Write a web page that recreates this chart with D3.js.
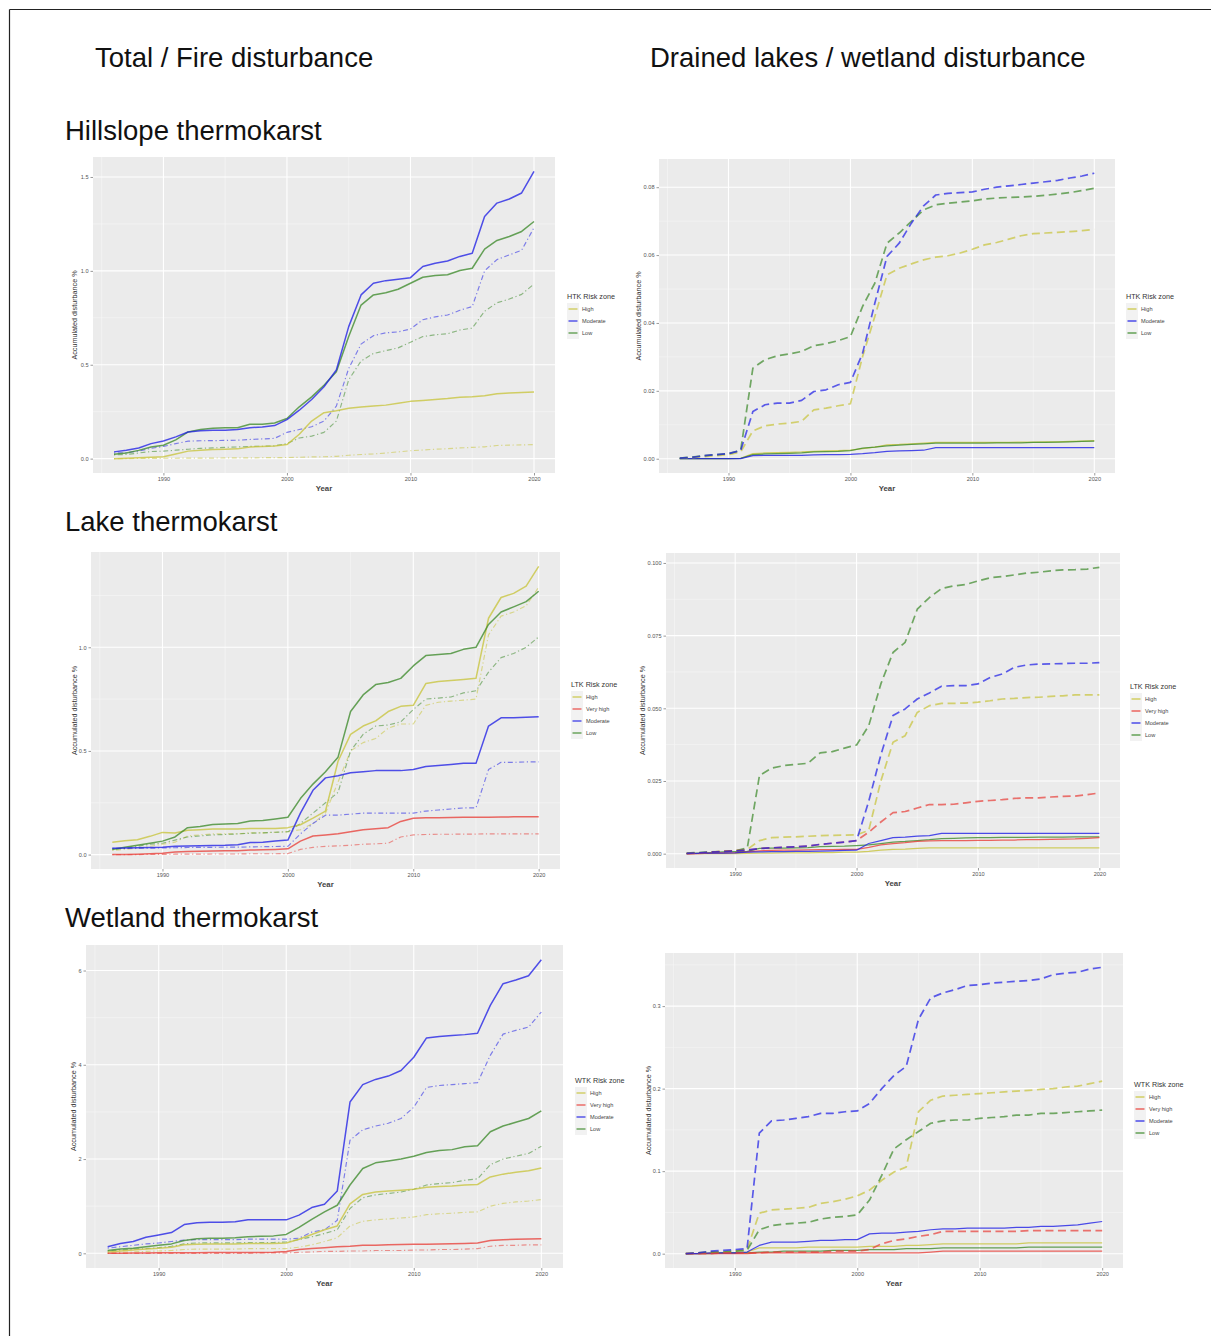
<!DOCTYPE html>
<html>
<head>
<meta charset="utf-8">
<script src="https://cdn.jsdelivr.net/npm/d3@7"></script>
<style>
  html, body { margin: 0; padding: 0; background: #ffffff; }
  svg { display: block; font-family: "Liberation Sans", Arial, Helvetica, sans-serif; }
</style>
</head>
<body>
<svg id="fig" width="1211" height="1336"></svg>
<script>
// ---------- categories ----------
const years = [1986,1987,1988,1989,1990,1991,1992,1993,1994,1995,1996,1997,1998,1999,2000,
               2001,2002,2003,2004,2005,2006,2007,2008,2009,2010,2011,2012,2013,2014,2015,
               2016,2017,2018,2019,2020];
const xTicks = [1990, 2000, 2010, 2020];
const zones3 = ["High", "Moderate", "Low"];
const zones4 = ["High", "Very high", "Moderate", "Low"];

// ---------- Hillslope thermokarst: total (solid) and fire (dot-dash), % ----------
const htkTotalHigh     = [0.000,0.002,0.005,0.008,0.010,0.025,0.040,0.045,0.048,0.050,0.052,0.062,0.065,0.067,0.075,0.130,0.200,0.245,0.255,0.268,0.275,0.280,0.285,0.295,0.305,0.310,0.315,0.320,0.327,0.330,0.335,0.345,0.350,0.352,0.355];
const htkTotalModerate = [0.036,0.045,0.057,0.080,0.094,0.116,0.142,0.148,0.151,0.151,0.155,0.165,0.169,0.176,0.208,0.258,0.315,0.383,0.472,0.703,0.872,0.934,0.948,0.956,0.964,1.023,1.041,1.053,1.077,1.094,1.290,1.361,1.383,1.415,1.530];
const htkTotalLow      = [0.023,0.030,0.044,0.062,0.071,0.100,0.142,0.155,0.162,0.165,0.165,0.183,0.183,0.190,0.214,0.276,0.329,0.391,0.463,0.650,0.818,0.872,0.884,0.902,0.934,0.966,0.975,0.979,1.002,1.014,1.116,1.162,1.183,1.210,1.263];
const htkFireHigh      = [0.000,0.000,0.001,0.001,0.002,0.002,0.003,0.003,0.003,0.004,0.004,0.004,0.005,0.005,0.006,0.007,0.009,0.010,0.012,0.018,0.022,0.025,0.030,0.036,0.042,0.046,0.050,0.053,0.057,0.060,0.063,0.070,0.072,0.073,0.075];
const htkFireModerate  = [0.030,0.032,0.040,0.055,0.065,0.080,0.093,0.095,0.096,0.097,0.098,0.102,0.105,0.108,0.140,0.155,0.170,0.200,0.280,0.480,0.610,0.655,0.670,0.675,0.690,0.740,0.755,0.765,0.790,0.810,1.000,1.060,1.085,1.110,1.230];
const htkFireLow       = [0.020,0.022,0.030,0.038,0.040,0.045,0.050,0.055,0.057,0.060,0.062,0.065,0.066,0.068,0.080,0.110,0.120,0.140,0.200,0.420,0.520,0.560,0.575,0.590,0.620,0.650,0.660,0.665,0.685,0.695,0.785,0.830,0.850,0.875,0.930];

// ---------- Hillslope thermokarst: drained lakes (dashed) and wetland (solid), % ----------
const htkDrainedHigh     = [0.0001,0.0003,0.0006,0.0009,0.0012,0.0020,0.0082,0.0097,0.0102,0.0105,0.0110,0.0144,0.0149,0.0156,0.0162,0.0301,0.0419,0.0542,0.0561,0.0574,0.0586,0.0594,0.0598,0.0606,0.0617,0.0630,0.0637,0.0647,0.0657,0.0663,0.0665,0.0667,0.0669,0.0672,0.0676];
const htkDrainedModerate = [0.0002,0.0004,0.0009,0.0012,0.0015,0.0024,0.0139,0.0159,0.0164,0.0164,0.0172,0.0198,0.0203,0.0218,0.0225,0.0311,0.0458,0.0596,0.0635,0.0694,0.0745,0.0777,0.0782,0.0784,0.0786,0.0794,0.0800,0.0804,0.0808,0.0812,0.0816,0.0820,0.0827,0.0833,0.0841];
const htkDrainedLow      = [0.0002,0.0005,0.0009,0.0012,0.0015,0.0025,0.0267,0.0292,0.0303,0.0309,0.0316,0.0333,0.0339,0.0348,0.0360,0.0449,0.0517,0.0635,0.0665,0.0699,0.0733,0.0748,0.0753,0.0756,0.0760,0.0765,0.0768,0.0770,0.0771,0.0773,0.0776,0.0780,0.0784,0.0790,0.0797];
const htkWetHigh         = [0.0000,0.0000,0.0000,0.0000,0.0000,0.0001,0.0015,0.0017,0.0018,0.0019,0.0020,0.0022,0.0023,0.0024,0.0025,0.0030,0.0034,0.0041,0.0042,0.0044,0.0046,0.0048,0.0048,0.0048,0.0048,0.0048,0.0048,0.0048,0.0049,0.0049,0.0050,0.0050,0.0051,0.0052,0.0053];
const htkWetModerate     = [0.0000,0.0000,0.0000,0.0000,0.0000,0.0000,0.0009,0.0010,0.0010,0.0010,0.0010,0.0011,0.0012,0.0012,0.0013,0.0015,0.0018,0.0022,0.0023,0.0024,0.0025,0.0033,0.0033,0.0033,0.0033,0.0033,0.0033,0.0033,0.0033,0.0033,0.0033,0.0033,0.0033,0.0033,0.0033];
const htkWetLow          = [0.0000,0.0000,0.0000,0.0000,0.0000,0.0001,0.0012,0.0014,0.0015,0.0016,0.0017,0.0020,0.0021,0.0022,0.0024,0.0031,0.0034,0.0038,0.0040,0.0042,0.0044,0.0046,0.0046,0.0046,0.0046,0.0046,0.0047,0.0047,0.0047,0.0048,0.0048,0.0049,0.0050,0.0051,0.0052];

// ---------- Lake thermokarst: total (solid) and fire (dot-dash), % ----------
const ltkTotalHigh      = [0.059,0.067,0.072,0.088,0.107,0.104,0.117,0.120,0.123,0.123,0.123,0.126,0.126,0.126,0.130,0.144,0.176,0.210,0.450,0.580,0.620,0.645,0.690,0.715,0.720,0.825,0.835,0.840,0.845,0.850,1.140,1.240,1.260,1.295,1.390];
const ltkTotalVeryHigh  = [0.000,0.000,0.002,0.004,0.006,0.012,0.015,0.016,0.017,0.018,0.019,0.022,0.023,0.025,0.028,0.065,0.090,0.095,0.100,0.110,0.120,0.125,0.130,0.160,0.175,0.178,0.178,0.179,0.180,0.180,0.180,0.181,0.182,0.182,0.183];
const ltkTotalModerate  = [0.030,0.032,0.033,0.034,0.035,0.040,0.042,0.043,0.044,0.045,0.048,0.058,0.060,0.065,0.070,0.200,0.310,0.370,0.380,0.395,0.400,0.405,0.405,0.405,0.410,0.425,0.430,0.435,0.440,0.440,0.620,0.660,0.660,0.662,0.665];
const ltkTotalLow       = [0.025,0.035,0.045,0.055,0.065,0.085,0.130,0.135,0.145,0.148,0.150,0.162,0.165,0.172,0.180,0.270,0.340,0.400,0.470,0.690,0.770,0.820,0.830,0.850,0.910,0.960,0.965,0.970,0.990,1.000,1.110,1.170,1.195,1.220,1.270];
const ltkFireHigh       = [0.020,0.025,0.030,0.040,0.050,0.060,0.090,0.095,0.100,0.100,0.100,0.105,0.105,0.108,0.110,0.120,0.150,0.200,0.350,0.500,0.540,0.560,0.610,0.630,0.630,0.720,0.735,0.740,0.745,0.750,1.060,1.150,1.170,1.200,1.290];
const ltkFireVeryHigh   = [0.000,0.000,0.000,0.001,0.001,0.002,0.002,0.002,0.003,0.003,0.003,0.004,0.004,0.004,0.005,0.025,0.035,0.040,0.042,0.045,0.050,0.052,0.055,0.085,0.095,0.097,0.098,0.098,0.099,0.099,0.100,0.100,0.100,0.100,0.100];
const ltkFireModerate   = [0.030,0.030,0.031,0.031,0.032,0.033,0.034,0.035,0.035,0.036,0.036,0.037,0.038,0.039,0.040,0.100,0.150,0.190,0.190,0.195,0.200,0.200,0.200,0.200,0.200,0.210,0.215,0.220,0.225,0.225,0.410,0.445,0.445,0.447,0.447];
const ltkFireLow        = [0.025,0.030,0.040,0.050,0.055,0.070,0.085,0.090,0.095,0.097,0.100,0.103,0.105,0.108,0.110,0.150,0.200,0.250,0.300,0.500,0.580,0.620,0.625,0.640,0.700,0.750,0.755,0.760,0.780,0.790,0.880,0.950,0.970,1.000,1.050];

// ---------- Lake thermokarst: drained lakes (dashed) and wetland (solid), % ----------
const ltkDrainedHigh     = [0.0001,0.0003,0.0005,0.0008,0.0010,0.0015,0.0045,0.0055,0.0057,0.0058,0.0060,0.0062,0.0063,0.0064,0.0065,0.0080,0.0250,0.0383,0.0406,0.0486,0.0509,0.0517,0.0517,0.0518,0.0521,0.0526,0.0532,0.0534,0.0537,0.0538,0.0541,0.0543,0.0546,0.0546,0.0546];
const ltkDrainedVeryHigh = [0.0000,0.0002,0.0005,0.0008,0.0010,0.0012,0.0018,0.0020,0.0022,0.0024,0.0026,0.0032,0.0036,0.0040,0.0045,0.0074,0.0109,0.0141,0.0145,0.0157,0.0169,0.0169,0.0170,0.0175,0.0180,0.0183,0.0186,0.0190,0.0192,0.0192,0.0195,0.0197,0.0198,0.0203,0.0209];
const ltkDrainedModerate = [0.0001,0.0003,0.0005,0.0007,0.0009,0.0012,0.0018,0.0020,0.0022,0.0024,0.0026,0.0032,0.0036,0.0040,0.0045,0.0180,0.0340,0.0475,0.0498,0.0532,0.0553,0.0576,0.0578,0.0578,0.0584,0.0606,0.0618,0.0641,0.0649,0.0652,0.0653,0.0654,0.0655,0.0655,0.0657];
const ltkDrainedLow      = [0.0002,0.0004,0.0006,0.0008,0.0010,0.0020,0.0269,0.0294,0.0303,0.0307,0.0311,0.0347,0.0351,0.0363,0.0374,0.0440,0.0584,0.0692,0.0727,0.0841,0.0881,0.0912,0.0921,0.0926,0.0938,0.0949,0.0953,0.0959,0.0965,0.0968,0.0973,0.0976,0.0977,0.0979,0.0985];
const ltkWetHigh         = [0.0000,0.0000,0.0000,0.0000,0.0000,0.0001,0.0002,0.0002,0.0003,0.0003,0.0003,0.0004,0.0004,0.0005,0.0005,0.0008,0.0012,0.0015,0.0016,0.0018,0.0020,0.0020,0.0020,0.0020,0.0020,0.0020,0.0020,0.0020,0.0020,0.0020,0.0020,0.0020,0.0020,0.0020,0.0020];
const ltkWetVeryHigh     = [0.0000,0.0000,0.0002,0.0003,0.0004,0.0006,0.0010,0.0011,0.0012,0.0012,0.0013,0.0014,0.0014,0.0015,0.0015,0.0022,0.0030,0.0035,0.0038,0.0042,0.0044,0.0045,0.0045,0.0045,0.0046,0.0046,0.0047,0.0047,0.0048,0.0048,0.0049,0.0050,0.0051,0.0053,0.0055];
const ltkWetModerate     = [0.0000,0.0001,0.0002,0.0002,0.0003,0.0005,0.0006,0.0007,0.0007,0.0008,0.0008,0.0009,0.0010,0.0011,0.0012,0.0035,0.0045,0.0055,0.0057,0.0060,0.0062,0.0070,0.0070,0.0070,0.0070,0.0070,0.0070,0.0070,0.0070,0.0070,0.0070,0.0070,0.0070,0.0070,0.0070];
const ltkWetLow          = [0.0000,0.0002,0.0004,0.0006,0.0007,0.0008,0.0018,0.0019,0.0019,0.0020,0.0021,0.0024,0.0025,0.0026,0.0028,0.0030,0.0035,0.0040,0.0042,0.0045,0.0048,0.0052,0.0053,0.0054,0.0055,0.0055,0.0056,0.0056,0.0056,0.0057,0.0057,0.0057,0.0058,0.0058,0.0058];

// ---------- Wetland thermokarst: total (solid) and fire (dot-dash), % ----------
const wtkTotalHigh      = [0.03,0.05,0.07,0.09,0.11,0.13,0.18,0.19,0.20,0.20,0.20,0.21,0.21,0.21,0.22,0.30,0.40,0.50,0.58,1.05,1.25,1.30,1.32,1.34,1.36,1.40,1.42,1.43,1.45,1.46,1.62,1.68,1.72,1.75,1.81];
const wtkTotalVeryHigh  = [0.000,0.000,0.005,0.008,0.010,0.012,0.013,0.014,0.015,0.015,0.016,0.018,0.020,0.025,0.040,0.080,0.100,0.120,0.140,0.150,0.170,0.170,0.180,0.185,0.190,0.195,0.200,0.205,0.210,0.220,0.270,0.290,0.300,0.305,0.310];
const wtkTotalModerate  = [0.14,0.21,0.25,0.34,0.39,0.44,0.61,0.65,0.66,0.66,0.67,0.71,0.71,0.71,0.71,0.81,0.97,1.04,1.32,3.21,3.58,3.69,3.76,3.88,4.16,4.57,4.60,4.62,4.64,4.67,5.26,5.72,5.80,5.89,6.23];
const wtkTotalLow       = [0.06,0.09,0.11,0.14,0.17,0.20,0.27,0.31,0.32,0.32,0.33,0.35,0.36,0.37,0.40,0.55,0.72,0.88,1.02,1.45,1.80,1.92,1.96,2.00,2.06,2.14,2.18,2.20,2.26,2.28,2.58,2.70,2.78,2.86,3.02];
const wtkFireHigh       = [0.01,0.02,0.03,0.04,0.05,0.06,0.08,0.09,0.09,0.09,0.09,0.10,0.10,0.10,0.10,0.13,0.18,0.25,0.33,0.58,0.68,0.71,0.73,0.75,0.77,0.82,0.84,0.85,0.87,0.88,1.00,1.06,1.09,1.11,1.14];
const wtkFireVeryHigh   = [0.00,0.00,0.00,0.00,0.00,0.00,0.00,0.00,0.00,0.00,0.00,0.00,0.01,0.01,0.01,0.02,0.03,0.04,0.04,0.05,0.05,0.06,0.06,0.06,0.07,0.07,0.08,0.08,0.09,0.10,0.15,0.17,0.17,0.18,0.18];
const wtkFireModerate   = [0.11,0.14,0.17,0.20,0.22,0.25,0.28,0.29,0.29,0.29,0.29,0.30,0.30,0.30,0.30,0.32,0.45,0.50,0.70,2.40,2.62,2.70,2.76,2.86,3.10,3.52,3.56,3.58,3.60,3.62,4.20,4.65,4.73,4.80,5.12];
const wtkFireLow        = [0.05,0.07,0.09,0.10,0.12,0.15,0.20,0.22,0.22,0.22,0.22,0.23,0.23,0.23,0.24,0.29,0.35,0.42,0.50,0.95,1.18,1.24,1.27,1.30,1.36,1.45,1.48,1.50,1.55,1.58,1.88,2.00,2.06,2.12,2.27];

// ---------- Wetland thermokarst: drained lakes (dashed) and wetland (solid), % ----------
const wtkDrainedHigh     = [0.000,0.001,0.002,0.002,0.003,0.005,0.049,0.053,0.054,0.055,0.056,0.061,0.063,0.066,0.070,0.077,0.089,0.099,0.105,0.172,0.186,0.191,0.192,0.193,0.194,0.195,0.196,0.197,0.198,0.199,0.200,0.202,0.203,0.206,0.209];
const wtkDrainedVeryHigh = [0.000,0.000,0.000,0.001,0.001,0.001,0.001,0.002,0.002,0.002,0.002,0.002,0.003,0.003,0.003,0.005,0.012,0.016,0.018,0.021,0.023,0.027,0.027,0.027,0.027,0.027,0.027,0.027,0.028,0.028,0.028,0.028,0.028,0.028,0.028];
const wtkDrainedModerate = [0.000,0.001,0.003,0.004,0.005,0.006,0.146,0.161,0.162,0.164,0.166,0.170,0.170,0.172,0.173,0.182,0.200,0.216,0.227,0.284,0.310,0.316,0.320,0.325,0.326,0.328,0.329,0.330,0.331,0.333,0.338,0.340,0.341,0.345,0.347];
const wtkDrainedLow      = [0.000,0.001,0.002,0.002,0.003,0.004,0.029,0.034,0.036,0.037,0.038,0.042,0.044,0.045,0.047,0.065,0.095,0.127,0.138,0.148,0.158,0.161,0.162,0.162,0.164,0.165,0.166,0.168,0.168,0.170,0.170,0.171,0.172,0.173,0.174];
const wtkWetHigh         = [0.000,0.000,0.001,0.001,0.001,0.002,0.007,0.007,0.007,0.007,0.008,0.008,0.008,0.008,0.008,0.009,0.009,0.009,0.010,0.010,0.011,0.012,0.012,0.012,0.012,0.012,0.012,0.012,0.013,0.013,0.013,0.013,0.013,0.013,0.013];
const wtkWetVeryHigh     = [0.000,0.000,0.000,0.000,0.000,0.000,0.001,0.001,0.001,0.001,0.001,0.001,0.001,0.001,0.001,0.001,0.001,0.001,0.001,0.001,0.002,0.003,0.003,0.003,0.003,0.003,0.003,0.003,0.003,0.003,0.003,0.003,0.003,0.003,0.003];
const wtkWetModerate     = [0.000,0.000,0.001,0.001,0.001,0.002,0.010,0.014,0.014,0.014,0.015,0.016,0.016,0.017,0.017,0.024,0.025,0.025,0.026,0.027,0.029,0.030,0.030,0.031,0.031,0.031,0.031,0.032,0.032,0.033,0.033,0.034,0.035,0.037,0.039];
const wtkWetLow          = [0.000,0.000,0.000,0.001,0.001,0.001,0.002,0.002,0.003,0.003,0.003,0.003,0.004,0.004,0.004,0.005,0.005,0.005,0.006,0.006,0.006,0.007,0.007,0.007,0.007,0.007,0.007,0.007,0.008,0.008,0.008,0.008,0.008,0.008,0.008];

// ---------- y-axis tick labels ----------
const htkTotalTicks   = [0, 0.5, 1.0, 1.5];
const htkDrainedTicks = [0, 0.02, 0.04, 0.06, 0.08];
const ltkTotalTicks   = [0, 0.5, 1.0];
const ltkDrainedTicks = [0, 0.025, 0.050, 0.075, 0.100];
const wtkTotalTicks   = [0, 2, 4, 6];
const wtkDrainedTicks = [0, 0.1, 0.2, 0.3];

// ---------- styling ----------
const zoneColor = { "High": "#c8c43c", "Very high": "#e8403a", "Moderate": "#2020e6", "Low": "#3e8b2c" };
const panelBg = "#ebebeb";

// panel layout: plotting box [left, right, top, bottom] in page pixels
const panels = [
  { box: [93, 555, 157, 473], ticks: htkTotalTicks, fmt: ".1f", kind: "fire",
    legendTitle: "HTK Risk zone", legendAt: [567, 296], zones: zones3, yTitleX: 74,
    solid:  { "High": htkTotalHigh, "Moderate": htkTotalModerate, "Low": htkTotalLow },
    broken: { "High": htkFireHigh,  "Moderate": htkFireModerate,  "Low": htkFireLow } },
  { box: [659, 1115, 159, 473], ticks: htkDrainedTicks, fmt: ".2f", kind: "drained",
    legendTitle: "HTK Risk zone", legendAt: [1126, 296], zones: zones3, yTitleX: 638,
    solid:  { "High": htkWetHigh, "Moderate": htkWetModerate, "Low": htkWetLow },
    broken: { "High": htkDrainedHigh, "Moderate": htkDrainedModerate, "Low": htkDrainedLow } },
  { box: [91, 560, 552, 869], ticks: ltkTotalTicks, fmt: ".1f", kind: "fire",
    legendTitle: "LTK Risk zone", legendAt: [571, 684], zones: zones4, yTitleX: 74,
    solid:  { "High": ltkTotalHigh, "Very high": ltkTotalVeryHigh, "Moderate": ltkTotalModerate, "Low": ltkTotalLow },
    broken: { "High": ltkFireHigh,  "Very high": ltkFireVeryHigh,  "Moderate": ltkFireModerate,  "Low": ltkFireLow } },
  { box: [666, 1120, 553, 868], ticks: ltkDrainedTicks, fmt: ".3f", kind: "drained",
    legendTitle: "LTK Risk zone", legendAt: [1130, 686], zones: zones4, yTitleX: 642,
    solid:  { "High": ltkWetHigh, "Very high": ltkWetVeryHigh, "Moderate": ltkWetModerate, "Low": ltkWetLow },
    broken: { "High": ltkDrainedHigh, "Very high": ltkDrainedVeryHigh, "Moderate": ltkDrainedModerate, "Low": ltkDrainedLow } },
  { box: [86, 563, 945, 1268], ticks: wtkTotalTicks, fmt: "d", kind: "fire",
    legendTitle: "WTK Risk zone", legendAt: [575, 1080], zones: zones4, yTitleX: 73,
    solid:  { "High": wtkTotalHigh, "Very high": wtkTotalVeryHigh, "Moderate": wtkTotalModerate, "Low": wtkTotalLow },
    broken: { "High": wtkFireHigh,  "Very high": wtkFireVeryHigh,  "Moderate": wtkFireModerate,  "Low": wtkFireLow } },
  { box: [665, 1123, 953, 1268], ticks: wtkDrainedTicks, fmt: ".1f", kind: "drained",
    legendTitle: "WTK Risk zone", legendAt: [1134, 1084], zones: zones4, yTitleX: 648,
    solid:  { "High": wtkWetHigh, "Very high": wtkWetVeryHigh, "Moderate": wtkWetModerate, "Low": wtkWetLow },
    broken: { "High": wtkDrainedHigh, "Very high": wtkDrainedVeryHigh, "Moderate": wtkDrainedModerate, "Low": wtkDrainedLow } }
];

const svg = d3.select("#fig");

// outer frame (left and top edges)
svg.append("line").attr("x1", 9.5).attr("y1", 9.5).attr("x2", 1211).attr("y2", 9.5)
  .attr("stroke", "#222").attr("stroke-width", 1.2);
svg.append("line").attr("x1", 9.5).attr("y1", 9.5).attr("x2", 9.5).attr("y2", 1336)
  .attr("stroke", "#222").attr("stroke-width", 1.2);

// headings
const headings = [
  { text: "Total / Fire disturbance", x: 95, y: 67 },
  { text: "Drained lakes / wetland disturbance", x: 650, y: 67 },
  { text: "Hillslope thermokarst", x: 65, y: 140 },
  { text: "Lake thermokarst", x: 65, y: 531 },
  { text: "Wetland thermokarst", x: 65, y: 927 }
];
svg.selectAll("text.heading").data(headings).join("text")
  .attr("class", "heading")
  .attr("x", d => d.x).attr("y", d => d.y)
  .attr("font-size", 27.5).attr("fill", "#111")
  .text(d => d.text);

panels.forEach(p => {
  const [x0, x1, y0, y1] = p.box;
  const g = svg.append("g");

  const allVals = Object.values(p.solid).concat(Object.values(p.broken)).flat();
  const yMin = Math.min(0, d3.min(allVals)), yMax = d3.max(allVals);
  const yPad = (yMax - yMin) * 0.05;
  const xPad = (years[years.length - 1] - years[0]) * 0.05;

  const x = d3.scaleLinear().domain([years[0] - xPad, years[years.length - 1] + xPad]).range([x0, x1]);
  const y = d3.scaleLinear().domain([yMin - yPad, yMax + yPad]).range([y1, y0]);

  // panel background
  g.append("rect").attr("x", x0).attr("y", y0).attr("width", x1 - x0).attr("height", y1 - y0)
    .attr("fill", panelBg);

  // minor grid
  const step = p.ticks[1] - p.ticks[0];
  const yMinor = [];
  for (let i = 0; i < p.ticks.length + 1; i++) {
    const v = p.ticks[0] + step * (i + 0.5);
    if (v > y.domain()[0] && v < y.domain()[1]) yMinor.push(v);
  }
  const xMinor = [1985, 1995, 2005, 2015];
  g.selectAll("line.ymin").data(yMinor).join("line")
    .attr("x1", x0).attr("x2", x1).attr("y1", d => y(d)).attr("y2", d => y(d))
    .attr("stroke", "#f7f7f7").attr("stroke-width", 0.6);
  g.selectAll("line.xmin").data(xMinor).join("line")
    .attr("y1", y0).attr("y2", y1).attr("x1", d => x(d)).attr("x2", d => x(d))
    .attr("stroke", "#f7f7f7").attr("stroke-width", 0.6);

  // major grid
  g.selectAll("line.ymaj").data(p.ticks).join("line")
    .attr("x1", x0).attr("x2", x1).attr("y1", d => y(d)).attr("y2", d => y(d))
    .attr("stroke", "#ffffff").attr("stroke-width", 1.1);
  g.selectAll("line.xmaj").data(xTicks).join("line")
    .attr("y1", y0).attr("y2", y1).attr("x1", d => x(d)).attr("x2", d => x(d))
    .attr("stroke", "#ffffff").attr("stroke-width", 1.1);

  // axes
  const xAxis = d3.axisBottom(x).tickValues(xTicks).tickFormat(d3.format("d")).tickSize(2.5).tickPadding(2);
  const yAxis = d3.axisLeft(y).tickValues(p.ticks).tickFormat(d3.format(p.fmt)).tickSize(2.5).tickPadding(2);
  const gx = g.append("g").attr("transform", `translate(0,${y1})`).call(xAxis);
  const gy = g.append("g").attr("transform", `translate(${x0},0)`).call(yAxis);
  [gx, gy].forEach(a => {
    a.select(".domain").remove();
    a.selectAll(".tick line").attr("stroke", "#555").attr("stroke-width", 0.6);
    a.selectAll(".tick text").attr("fill", "#555").attr("font-size", 5.6)
      .attr("font-family", "'Liberation Sans', Arial, sans-serif");
  });

  // axis titles
  g.append("text").attr("x", (x0 + x1) / 2).attr("y", y1 + 18)
    .attr("text-anchor", "middle").attr("font-size", 7.8).attr("font-weight", "bold").attr("fill", "#444")
    .text("Year");
  g.append("text")
    .attr("transform", `translate(${p.yTitleX + 2.5},${(y0 + y1) / 2}) rotate(-90)`)
    .attr("text-anchor", "middle").attr("font-size", 7.2).attr("fill", "#333")
    .text("Accumulated disturbance %");

  // series
  const line = d3.line().x((d, i) => x(years[i])).y(d => y(d));
  const isFire = p.kind === "fire";
  const brokenStyle = isFire
    ? { dash: "1.2,2.6,5,2.6", width: 1.15, opacity: 0.55 }
    : { dash: "8,4.5", width: 1.7, opacity: 0.72 };
  const solidStyle = isFire
    ? { width: 1.5, opacity: 0.78 }
    : { width: 1.25, opacity: 0.8 };

  const order = ["High", "Low", "Very high", "Moderate"].filter(z => p.zones.includes(z));
  const plot = g.append("g");
  const drawSet = (set, st) => {
    order.forEach(z => {
      plot.append("path").datum(set[z])
        .attr("d", line)
        .attr("fill", "none")
        .attr("stroke", zoneColor[z])
        .attr("stroke-opacity", st.opacity)
        .attr("stroke-width", st.width)
        .attr("stroke-linejoin", "round")
        .attr("stroke-dasharray", st.dash || null);
    });
  };
  if (isFire) { drawSet(p.broken, brokenStyle); drawSet(p.solid, solidStyle); }
  else { drawSet(p.solid, solidStyle); drawSet(p.broken, brokenStyle); }

  // legend
  const [lx, ly] = p.legendAt;
  const lg = g.append("g");
  lg.append("text").attr("x", lx).attr("y", ly + 2.5)
    .attr("font-size", 7.2).attr("fill", "#333").text(p.legendTitle);
  const items = lg.selectAll("g.item").data(p.zones).join("g")
    .attr("transform", (d, i) => `translate(${lx},${ly + 13 + i * 12})`);
  items.append("rect").attr("x", 0).attr("y", -6).attr("width", 12).attr("height", 12)
    .attr("fill", "#f2f2f2");
  items.append("line").attr("x1", 1.5).attr("x2", 10.5).attr("y1", 0).attr("y2", 0)
    .attr("stroke", d => zoneColor[d])
    .attr("stroke-opacity", isFire ? 0.8 : 0.75)
    .attr("stroke-width", isFire ? 1.4 : 1.6);
  items.append("text").attr("x", 15).attr("y", 2)
    .attr("font-size", 5.6).attr("fill", "#444").text(d => d);
});
</script>
</body>
</html>
